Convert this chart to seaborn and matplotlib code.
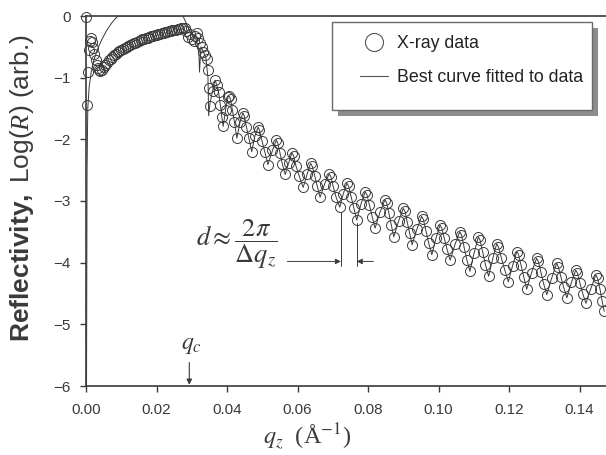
import matplotlib
matplotlib.use("Agg")
import matplotlib.pyplot as plt
import seaborn as sns
import pandas as pd
from matplotlib.lines import Line2D
from matplotlib.patches import Rectangle

# reflectivity data
# total reflection region (q < qc)
q_low = [0.0000, 0.0002, 0.0005, 0.0009, 0.0012, 0.0015, 0.0018, 0.0021,
         0.0024, 0.0027, 0.0030, 0.0033, 0.0036]
r_low = [-0.02, -1.45, -0.90, -0.55, -0.40, -0.36, -0.42, -0.52,
         -0.62, -0.71, -0.79, -0.85, -0.88]

q_band = [0.0040, 0.0045, 0.0050, 0.0055, 0.0060, 0.0065, 0.0070, 0.0075,
          0.0080, 0.0085, 0.0090, 0.0095, 0.0100, 0.0105, 0.0110, 0.0115,
          0.0120, 0.0125, 0.0130, 0.0135, 0.0140, 0.0145, 0.0150, 0.0155,
          0.0160, 0.0165, 0.0170, 0.0175, 0.0180, 0.0185, 0.0190, 0.0195,
          0.0200, 0.0205, 0.0210, 0.0215, 0.0220, 0.0225, 0.0230, 0.0235,
          0.0240, 0.0245, 0.0250, 0.0255, 0.0260, 0.0265, 0.0270, 0.0275,
          0.0280, 0.0285]
r_band = [-0.89, -0.87, -0.83, -0.79, -0.76, -0.72, -0.69, -0.66,
          -0.64, -0.61, -0.59, -0.57, -0.55, -0.535, -0.52, -0.505,
          -0.49, -0.475, -0.46, -0.445, -0.43, -0.42, -0.41, -0.395,
          -0.38, -0.37, -0.36, -0.35, -0.34, -0.33, -0.32, -0.31,
          -0.30, -0.29, -0.285, -0.275, -0.27, -0.26, -0.255, -0.25,
          -0.24, -0.235, -0.23, -0.22, -0.215, -0.21, -0.20, -0.19,
          -0.20, -0.24]

# critical edge
q_edge = [0.0290, 0.0295, 0.0300, 0.0305, 0.0310, 0.0314, 0.0318, 0.0324,
          0.0329, 0.0333, 0.0338, 0.0343, 0.0347, 0.0349, 0.0352]
r_edge = [-0.34, -0.29, -0.37, -0.41, -0.33, -0.28, -0.36, -0.44,
          -0.51, -0.58, -0.63, -0.69, -0.88, -1.17, -1.46]

# Kiessig fringes
q_fringe = [
    0.0359, 0.0366, 0.0371, 0.0376, 0.0381, 0.0385, 0.0389, 0.0396, 0.0403,
    0.0406, 0.0410, 0.0415, 0.0421, 0.0428, 0.0437,
    0.0445, 0.0449, 0.0455, 0.0462, 0.0470, 0.0479,
    0.0488, 0.0492, 0.0499, 0.0507, 0.0516, 0.0529,
    0.0540, 0.0544, 0.0550, 0.0557, 0.0565, 0.0575,
    0.0584, 0.0589, 0.0596, 0.0605, 0.0616, 0.0627,
    0.0637, 0.0642, 0.0649, 0.0656, 0.0664, 0.0677,
    0.0690, 0.0695, 0.0701, 0.0709, 0.0720, 0.0730,
    0.0740, 0.0745, 0.0752, 0.0760, 0.0768, 0.0780,
    0.0792, 0.0797, 0.0804, 0.0812, 0.0820, 0.0834,
    0.0848, 0.0853, 0.0859, 0.0866, 0.0873, 0.0887,
    0.0900, 0.0905, 0.0911, 0.0918, 0.0925, 0.0939,
    0.0952, 0.0957, 0.0964, 0.0972, 0.0981, 0.0993,
    0.1004, 0.1009, 0.1016, 0.1024, 0.1033, 0.1047,
    0.1060, 0.1065, 0.1072, 0.1080, 0.1089, 0.1101,
    0.1113, 0.1118, 0.1125, 0.1133, 0.1142, 0.1154,
    0.1165, 0.1170, 0.1178, 0.1188, 0.1198, 0.1210,
    0.1222, 0.1227, 0.1234, 0.1242, 0.1250, 0.1264,
    0.1278, 0.1283, 0.1290, 0.1298, 0.1307, 0.1321,
    0.1335, 0.1340, 0.1347, 0.1355, 0.1364, 0.1377,
    0.1389, 0.1394, 0.1401, 0.1409, 0.1418, 0.1432,
    0.1446, 0.1451, 0.1458, 0.1464, 0.1470]
r_fringe = [
    -1.22, -1.04, -1.12, -1.23, -1.44, -1.63, -1.79, -1.52, -1.31,
    -1.30, -1.35, -1.52, -1.72, -1.98, -1.72,
    -1.57, -1.62, -1.80, -1.98, -2.20, -1.95,
    -1.80, -1.85, -2.02, -2.20, -2.41, -2.18,
    -2.01, -2.06, -2.22, -2.40, -2.57, -2.38,
    -2.22, -2.27, -2.44, -2.60, -2.78, -2.57,
    -2.39, -2.44, -2.60, -2.76, -2.94, -2.72,
    -2.56, -2.61, -2.76, -2.93, -3.10, -2.88,
    -2.71, -2.76, -2.93, -3.12, -3.31, -3.05,
    -2.85, -2.90, -3.07, -3.26, -3.44, -3.18,
    -2.98, -3.03, -3.20, -3.39, -3.58, -3.32,
    -3.12, -3.17, -3.34, -3.52, -3.71, -3.45,
    -3.25, -3.30, -3.48, -3.68, -3.87, -3.60,
    -3.39, -3.44, -3.60, -3.78, -3.96, -3.70,
    -3.50, -3.55, -3.74, -3.95, -4.14, -3.84,
    -3.58, -3.64, -3.82, -4.03, -4.22, -3.93,
    -3.69, -3.75, -3.92, -4.12, -4.31, -4.05,
    -3.82, -3.87, -4.04, -4.24, -4.43, -4.16,
    -3.93, -3.98, -4.15, -4.34, -4.52, -4.25,
    -4.01, -4.07, -4.23, -4.40, -4.57, -4.32,
    -4.12, -4.17, -4.33, -4.50, -4.66, -4.42,
    -4.20, -4.25, -4.43, -4.62, -4.79]

# fitted curve below the fringes (above that it runs through the data)
q_fit_low = [0.00015, 0.0003, 0.0005, 0.0009, 0.0015, 0.0022, 0.0034, 0.0045,
             0.0058, 0.0072, 0.0085, 0.0092, 0.0275, 0.0283, 0.0292, 0.0302,
             0.0312, 0.0320, 0.0322, 0.0326, 0.0333, 0.0340, 0.0346, 0.0348,
             0.0352]
r_fit_low = [-6.0, -2.5, -1.5, -1.15, -0.90, -0.72, -0.52, -0.38,
             -0.24, -0.12, -0.03, 0.0, 0.0, -0.10, -0.22, -0.32,
             -0.38, -0.55, -0.91, -0.50, -0.58, -0.68, -1.0, -1.62,
             -1.40]

data = pd.DataFrame({"q": q_low + q_band + q_edge + q_fringe,
                     "r": r_low + r_band + r_edge + r_fringe})
fit = pd.DataFrame({"q": q_fit_low + q_fringe, "r": r_fit_low + r_fringe})

sns.set_theme(style="ticks")
plt.rcParams["font.family"] = ["Liberation Sans", "DejaVu Sans"]
plt.rcParams["mathtext.fontset"] = "custom"
plt.rcParams["mathtext.rm"] = "Liberation Sans"
plt.rcParams["mathtext.bf"] = "Liberation Sans:bold"
plt.rcParams["mathtext.it"] = "Liberation Serif:italic"

ink = "#3a3a3a"
fig = plt.figure(figsize=(6.06, 4.55), dpi=100)
ax = fig.add_axes([86 / 606, 1 - 386 / 455, 520 / 606, 370 / 455])

sns.lineplot(data=fit, x="q", y="r", ax=ax, sort=False, estimator=None,
             color=ink, lw=0.7)
sns.lineplot(data=data, x="q", y="r", ax=ax, sort=False, estimator=None,
             ls="none", marker="o", ms=7.2, mfc="none", mec=ink, mew=0.7,
             clip_on=False)

ax.set_xlim(0, 0.1475)
ax.set_ylim(-6, 0)
ax.set_xticks([0.00, 0.02, 0.04, 0.06, 0.08, 0.10, 0.12, 0.14])
ax.set_xticklabels([f"{t:.2f}" for t in ax.get_xticks()])
ax.set_yticks([0, -1, -2, -3, -4, -5, -6])
ax.set_yticklabels(["0", "\u22121", "\u22122", "\u22123", "\u22124", "\u22125", "\u22126"])
ax.tick_params(labelsize=11, colors=ink, length=4, width=1)
ax.tick_params(axis="x", pad=8)
ax.tick_params(axis="y", pad=7)
for side in ["left", "bottom", "top"]:
    ax.spines[side].set_color(ink)
    ax.spines[side].set_linewidth(1.2)
ax.spines["right"].set_visible(False)

ax.set_xlabel("")
ax.set_ylabel(r"$\mathbf{Reflectivity,}$ Log($\mathit{R}$) (arb.)",
              fontsize=19, color=ink)
ax.yaxis.set_label_coords(-0.097, 0.535)
ax.text(0.425, -0.138, r"$q_z$  (Å$^{-1}$)", transform=ax.transAxes,
        ha="center", va="center", fontsize=17.5, color=ink,
        family="Liberation Serif", math_fontfamily="stix")

# critical edge marker
ax.text(0.0300, -5.33, r"$q_c$", ha="center", va="center", fontsize=17,
        color=ink, math_fontfamily="stix")
ax.annotate("", xy=(0.0293, -5.98), xytext=(0.0293, -5.62),
            arrowprops=dict(arrowstyle="-|>", color=ink, lw=0.8,
                            mutation_scale=8, shrinkA=0, shrinkB=0))

# fringe period annotation
ax.text(0.0429, -3.70, r"$d \approx \dfrac{2\pi}{\Delta q_z}$", ha="center",
        va="center", fontsize=19, color=ink, math_fontfamily="stix")
ax.plot([0.0723, 0.0723], [-3.18, -4.06], color=ink, lw=0.7)
ax.plot([0.0768, 0.0768], [-3.36, -4.06], color=ink, lw=0.7)
ax.annotate("", xy=(0.0723, -3.98), xytext=(0.0571, -3.98),
            arrowprops=dict(arrowstyle="-|>", color=ink, lw=0.7,
                            mutation_scale=8, shrinkA=0, shrinkB=0))
ax.annotate("", xy=(0.0768, -3.98), xytext=(0.0815, -3.98),
            arrowprops=dict(arrowstyle="-|>", color=ink, lw=0.7,
                            mutation_scale=8, shrinkA=0, shrinkB=0))

# legend box with drop shadow
bx, by, bw, bh = 0.473, 0.746, 0.5, 0.238
ax.add_patch(Rectangle((bx + 0.0115, by - 0.0162), bw, bh, transform=ax.transAxes,
                       facecolor="#8c8c8c", edgecolor="none", zorder=5))
ax.add_patch(Rectangle((bx, by), bw, bh, transform=ax.transAxes,
                       facecolor="white", edgecolor="#6a6a6a", lw=1, zorder=6))
handles = [Line2D([], [], ls="none", marker="o", ms=13, mfc="white", mec="#555555", mew=0.8),
           Line2D([], [], color="#555555", lw=0.8)]
leg = ax.legend(handles, ["X-ray data", "Best curve fitted to data"],
                loc="upper left", bbox_to_anchor=((360 - 86) / 520, (386 - 35) / 370),
                frameon=False, borderaxespad=0, borderpad=0, fontsize=12.8,
                handlelength=1.57, handletextpad=0.5, labelspacing=0.95)
leg.set_zorder(7)
for t in leg.get_texts():
    t.set_color("#222222")

fig.savefig("out.png", dpi=100)
